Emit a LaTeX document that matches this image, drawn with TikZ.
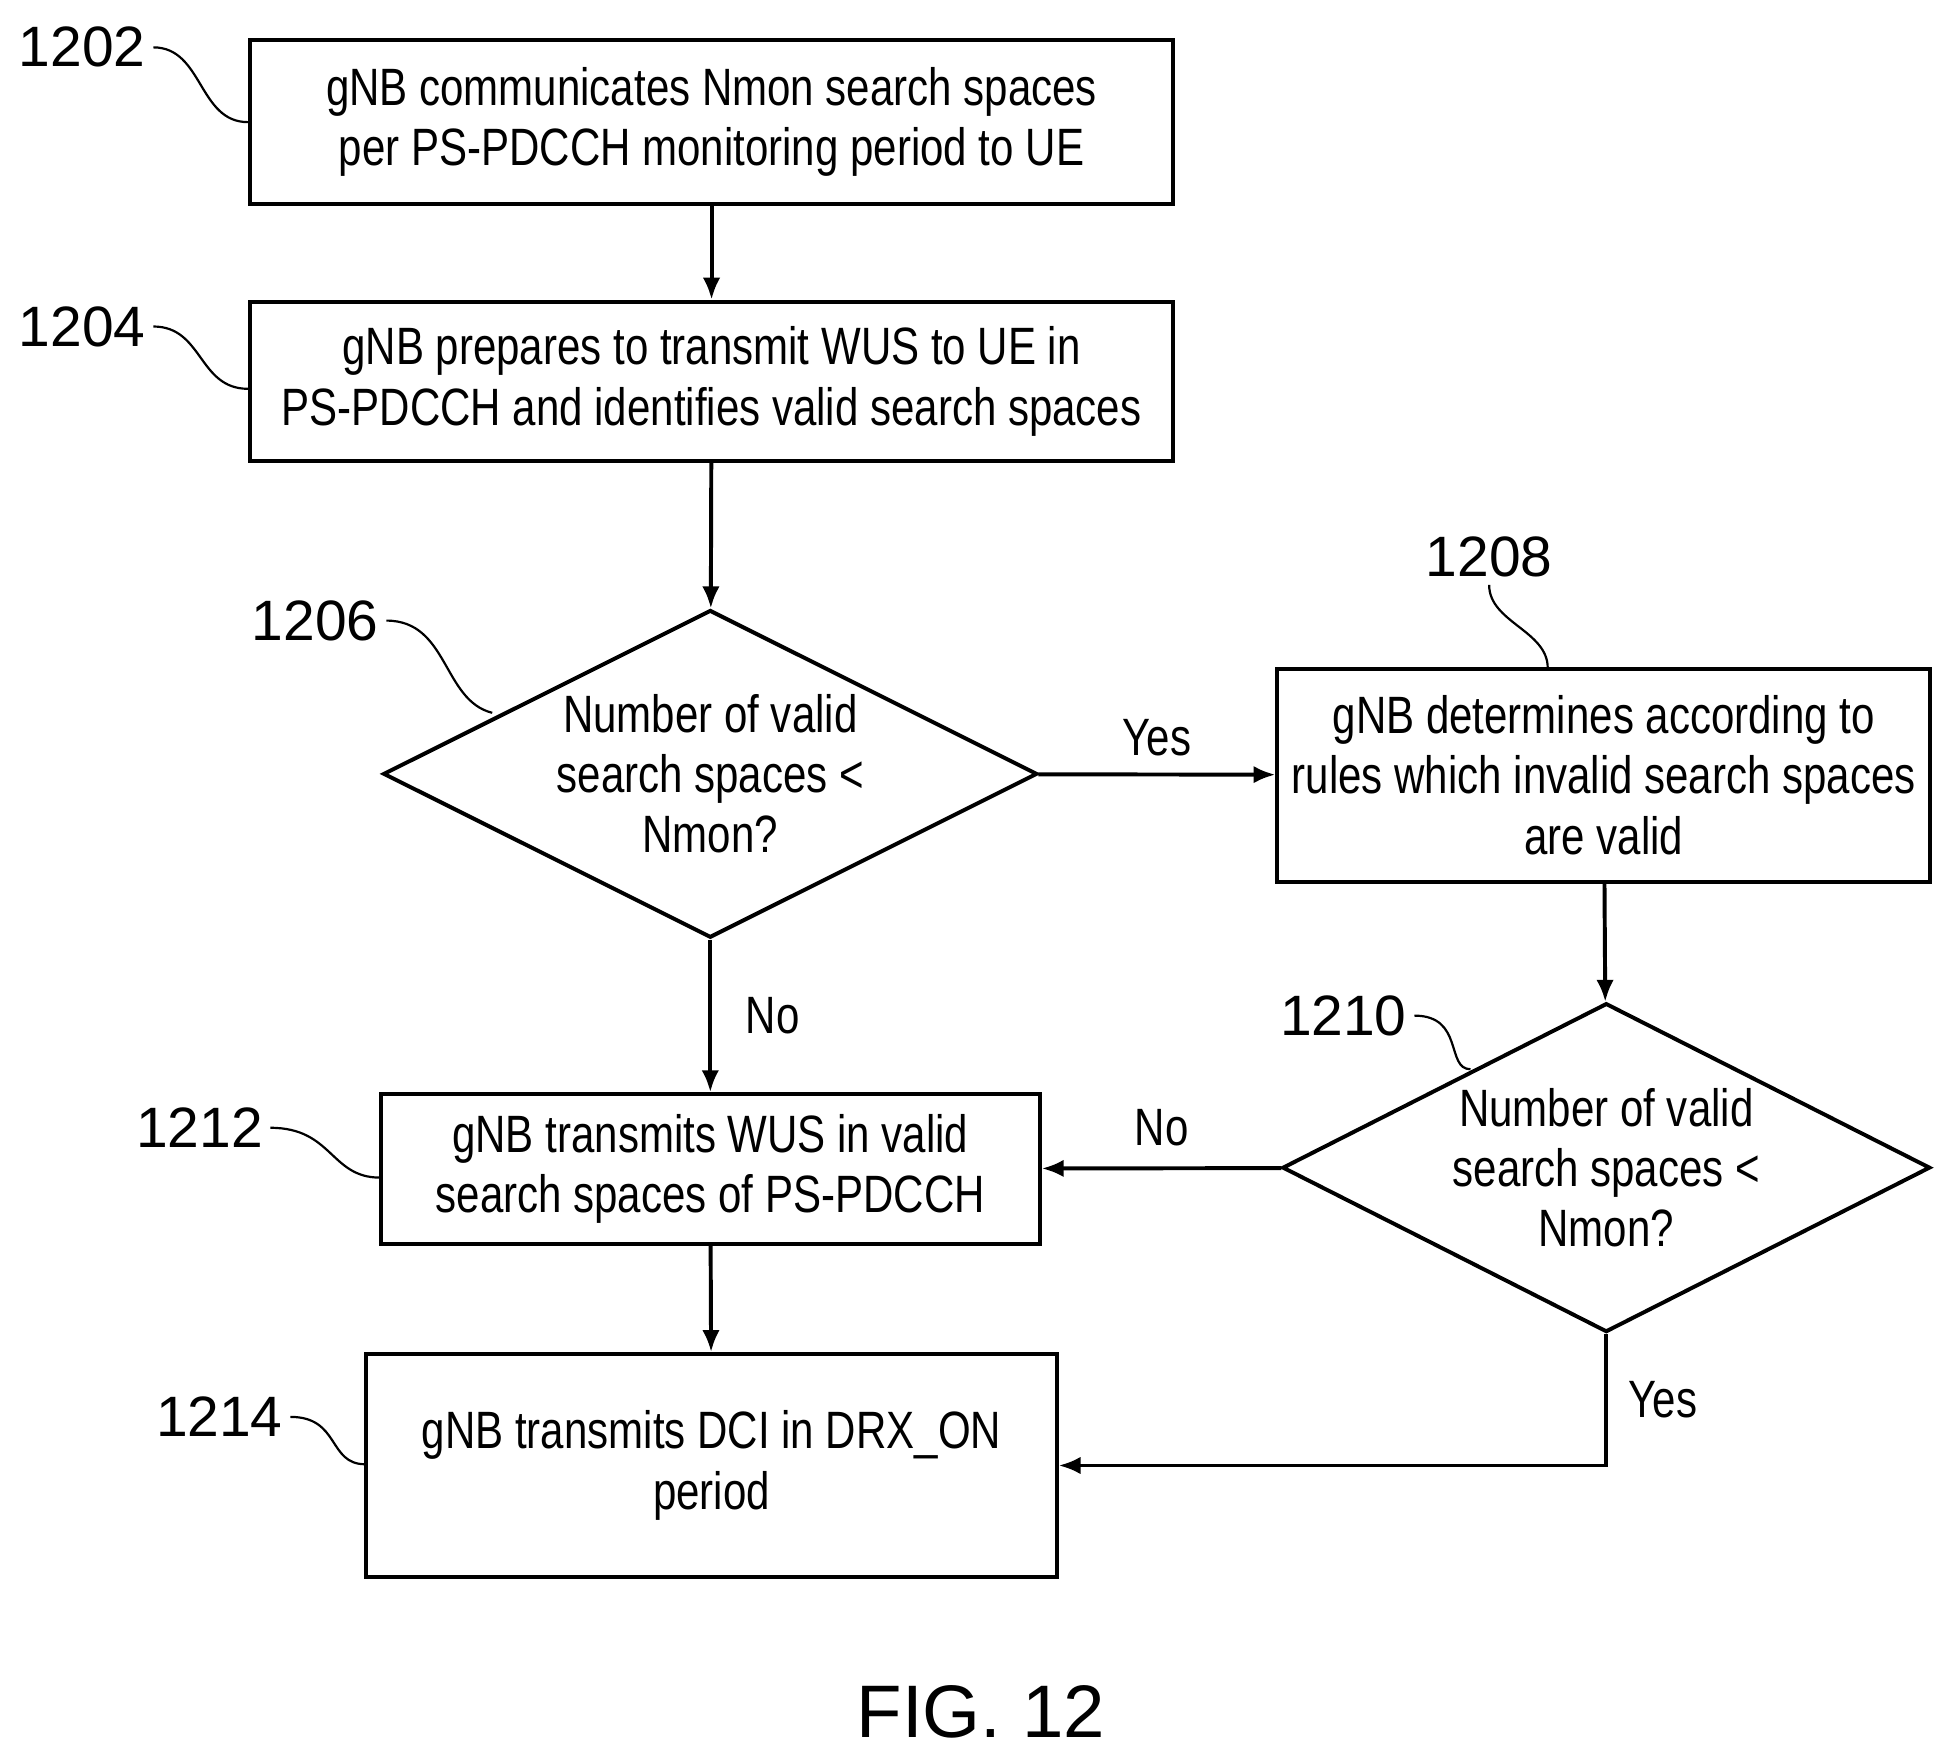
\documentclass[tikz,border=0pt]{standalone}
\usepackage{fontspec}
\setmainfont{Liberation Sans}
\newfontfamily\narrowfont[FakeStretch=0.80]{Liberation Sans}
\usetikzlibrary{positioning}
\usetikzlibrary{shapes.geometric}
\usetikzlibrary{arrows.meta}

\tikzset{
  stage/.style={draw,line width=1.8pt,align=center,inner sep=0pt,
    font=\narrowfont\fontsize{24}{27.5}\selectfont},
  test/.style={stage,diamond},
  flow/.style={-{Latex[length=10pt,width=8pt]},line width=1.8pt},
  ref/.style={font=\fontsize{26}{28}\selectfont},
  lead/.style={line width=1pt},
  answer/.style={font=\narrowfont\fontsize{24}{27}\selectfont}
}

\begin{document}
\begin{tikzpicture}[x=0.02cm,y=-0.02cm]
  \useasboundingbox (0,0) rectangle (1560,1411);

  \node at (571,98) [stage,minimum width=14.82cm,minimum height=2.64cm] (comm) {
    gNB communicates Nmon search spaces\\per PS-PDCCH monitoring period to UE
  };

  \node at (571,306) [stage,minimum width=14.82cm,minimum height=2.56cm] (prep) {
    gNB prepares to transmit WUS to UE in\\PS-PDCCH and identifies valid search spaces
  };

  \node at (570,621) [test,minimum width=10.5cm,minimum height=5.26cm,aspect=2] (check) {
    Number of valid\\search spaces <\\Nmon?
  };

  \node at (1287,622) [stage,minimum width=10.48cm,minimum height=3.42cm] (rules) {
    gNB determines according to\\rules which invalid search spaces\\are valid
  };

  \node at (1289,937) [test,minimum width=10.4cm,minimum height=5.28cm,aspect=2] (recheck) {
    Number of valid\\search spaces <\\Nmon?
  };

  \node at (570,938) [stage,minimum width=10.58cm,minimum height=2.4cm] (wus) {
    gNB transmits WUS in valid\\search spaces of PS-PDCCH
  };

  \node at (571,1176) [stage,minimum width=11.08cm,minimum height=3.58cm] (dci) {
    gNB transmits DCI in DRX\_ON\\period
  };

  \node at (787,1374) [font=\fontsize{34}{38}\selectfont] (fig) {FIG. 12};

  % flow
  \draw[flow] (comm) -- (prep);
  \draw[flow] (prep) -- (check);
  \draw[flow] (check) -- node[answer,above=4pt] {Yes} (rules);
  \draw[flow] (check) -- node[answer,right=12pt] {No} (wus);
  \draw[flow] (rules) -- (recheck);
  \draw[flow] (recheck) -- node[answer,above=6pt] {No} (wus);
  \draw[flow] (wus) -- (dci);
  \draw[flow] (recheck.south) |- node[answer,pos=0.25,right=6pt] {Yes} (dci.east);

  % reference numerals
  \node at (66,38) [ref] (n1202) {1202};
  \node at (66,262) [ref] (n1204) {1204};
  \node at (253,498) [ref] (n1206) {1206};
  \node at (1195,447) [ref] (n1208) {1208};
  \node at (1078,815) [ref] (n1210) {1210};
  \node at (160,905) [ref] (n1212) {1212};
  \node at (176,1137) [ref] (n1214) {1214};

  \coordinate (t1202) at (199,98);
  \coordinate (t1204) at (199,312);
  \coordinate (t1206) at (395,572);
  \coordinate (t1208) at (1242,536);
  \coordinate (t1210) at (1180,858);
  \coordinate (t1212) at (305,945);
  \coordinate (t1214) at (293,1175);

  \draw[lead] (n1202.east) .. controls +(40,0) and +(-40,0) .. (t1202);
  \draw[lead] (n1204.east) .. controls +(40,0) and +(-40,0) .. (t1204);
  \draw[lead] (n1206.east) .. controls +(50,0) and +(-40,-10) .. (t1206);
  \draw[lead] (n1208.south) .. controls +(0,30) and +(0,-30) .. (t1208);
  \draw[lead] (n1210.east) .. controls +(40,0) and +(-20,0) .. (t1210);
  \draw[lead] (n1212.east) .. controls +(50,0) and +(-40,0) .. (t1212);
  \draw[lead] (n1214.east) .. controls +(40,0) and +(-30,0) .. (t1214);
\end{tikzpicture}
\end{document}
